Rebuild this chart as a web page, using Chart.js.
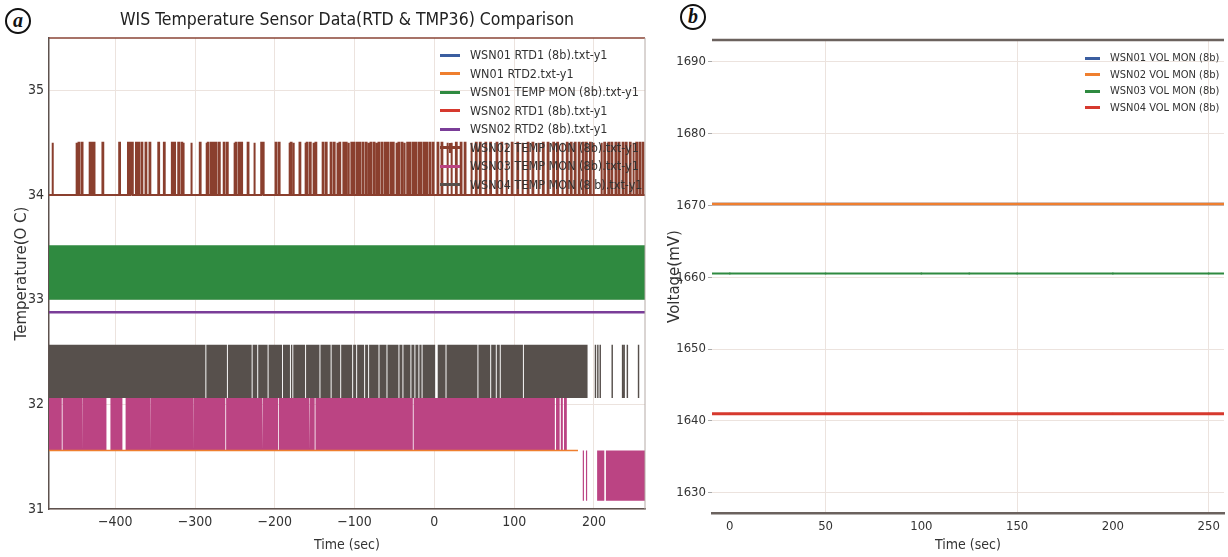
<!DOCTYPE html>
<html>
<head>
<meta charset="utf-8">
<title>WIS Temperature / Voltage</title>
<script src="https://cdn.jsdelivr.net/npm/chart.js"></script>
<style>
    body {
        margin: 0;
        width: 1228px;
        height: 557px;
        overflow: hidden;
        position: relative;
        background: #fff;
        font-family: "DejaVu Sans Condensed", "DejaVu Sans", sans-serif;
    }
    .panel { position: absolute; top: 0; }
    #panelA { left: 0; }
    #panelB { left: 660px; }
    .tag {
        position: absolute;
        width: 22px;
        height: 22px;
        border: 2px solid #111;
        border-radius: 50%;
        font: italic bold 20px "Liberation Serif", serif;
        text-align: center;
        line-height: 20px;
        color: #111;
    }
    .legend { position: absolute; color: #333; }
    .legend .row { position: relative; white-space: nowrap; }
    .legend .swatch { position: absolute; left: 0; top: 50%; height: 3px; margin-top: -1.5px; }
    .legend .plus { position: absolute; top: 50%; width: 2px; height: 10px; margin-top: -5px; }
</style>
</head>
<body>
<div class="tag" style="left:5px; top:8px;">a</div>
<div class="tag" style="left:680px; top:4px;">b</div>

<canvas id="panelA" class="panel" width="655" height="557"></canvas>
<canvas id="panelB" class="panel" width="568" height="557"></canvas>

<div id="legendA" class="legend" style="left:440px; top:46px; font-size:12.5px;"></div>
<div id="legendB" class="legend" style="left:1085px; top:50px; font-size:11px;"></div>

<script>
    // ---------- panel (a): temperature ----------
    const tempXRange = [-483, 264];
    const tempYRange = [31, 35.5];

    const tempLabels = [
        'WSN01 RTD1 (8b).txt-y1',
        'WN01 RTD2.txt-y1',
        'WSN01 TEMP MON (8b).txt-y1',
        'WSN02 RTD1 (8b).txt-y1',
        'WSN02 RTD2 (8b).txt-y1',
        'WSN02 TEMP MON (8b).txt-y1',
        'WSN03 TEMP MON (8b).txt-y1',
        'WSN04 TEMP MON (8 b).txt-y1'
    ];
    const tempColors = ['#3b5ea0', '#ef7f2f', '#2f8a40', '#d6392e', '#7a3d98', '#8a3f2e', '#bb4483', '#57504c'];

    // WSN02 TEMP MON rests at 34.0 and jumps to 34.5 at these times (sec)
    const wsn02TempLevels = [34.0, 34.5];
    const wsn02TempSpikes = [
        -479, -449, -446, -442, -432, -430, -427, -416, -395, -384, -381, -379, -374, -371, -367,
        -362, -357, -346, -339, -329, -326, -321, -317, -315, -305, -294, -286, -284, -280, -277,
        -274, -270, -264, -260, -251, -249, -245, -242, -234, -226, -217, -215, -199, -195, -182,
        -180, -177, -169, -162, -160, -156, -152, -149, -140, -136, -130, -126, -122, -119, -114,
        -111, -108, -104, -101, -97, -94, -90, -86, -83, -80, -76, -73, -70, -66, -62, -59, -55,
        -52, -48, -45, -41, -38, -34, -31, -27, -24, -20, -17, -13, -10, -6, -2, 4, 9, 16, 21, 27,
        33, 38, 46, 52, 57, 64, 70, 78, 84, 90, 97, 104, 110, 117, 123, 130, 136, 142, 149, 154,
        160, 166, 171, 176, 181, 186, 190, 195, 199, 209, 213, 218, 222, 227, 231, 236, 240, 245,
        249, 253, 257, 261
    ];

    // WSN01 TEMP MON flips between these two levels too fast to resolve
    const wsn01TempLevels = [33.0, 33.52];

    const wsn02Rtd2Level = 32.88;
    const wn01Rtd2Level = 31.56;
    const wn01Rtd2End = 180;

    // WSN04 TEMP MON: solid band with short gaps, mostly low after ~192 s
    const wsn04TempLevels = [32.06, 32.57];
    const wsn04TempGaps = [
        -287, -260, -229, -222, -209, -191, -181, -178, -162, -144, -130, -118, -103, -98, -88,
        -83, -70, -60, -45, -40, -30, -25, -20, -16, 1, 3, 14, 54, 70, 77, 82, 111
    ];
    const wsn04TempSparseFrom = 192;
    const wsn04TempLateSpikes = [201, 204, 207, 222, 235, 237, 241, 255];

    // WSN03 TEMP MON: band 31.56-32.06, steps down to 31.08-31.56 later
    const wsn03TempLevels = [31.08, 31.56, 32.06];
    const wsn03TempGaps = [
        [-467, -466], [-441, -440.4], [-411, -406], [-391, -387], [-356, -355.4], [-302, -301.4],
        [-262, -261], [-216, -215], [-196, -195], [-157, -156], [-150, -149], [-27, -26],
        [151, 152.5], [157, 158.5], [161, 162.5]
    ];
    const wsn03TempDropAt = 166;
    const wsn03TempLowRuns = [[186, 187.5], [190, 191.5], [204, 213], [215, 264]];

    // ---------- panel (b): voltage ----------
    const voltXRange = [-9.3, 258];
    const voltYRange = [1627.2, 1693];
    const voltLabels = ['WSN01 VOL MON (8b)', 'WSN02 VOL MON (8b)', 'WSN03 VOL MON (8b)', 'WSN04 VOL MON (8b)'];
    const voltColors = ['#3b5ea0', '#ef7f2f', '#2f8a40', '#d6392e'];
    const voltTimes = [-12, 0, 50, 100, 125, 150, 200, 250, 262];
    const wsn01Vol = [1670.2, 1670.2, 1670.2, 1670.2, 1670.2, 1670.2, 1670.2, 1670.2, 1670.2];
    const wsn02Vol = [1670.2, 1670.2, 1670.2, 1670.2, 1670.2, 1670.2, 1670.2, 1670.2, 1670.2];
    const wsn03Vol = [1660.5, 1660.5, 1660.5, 1660.5, 1660.5, 1660.5, 1660.5, 1660.5, 1660.5];
    const wsn04Vol = [1641.0, 1641.0, 1641.0, 1641.0, 1641.0, 1641.0, 1641.0, 1641.0, 1641.0];

    const cond = '"DejaVu Sans Condensed", "DejaVu Sans", sans-serif';
    const wide = '"DejaVu Sans", sans-serif';
    const gridColor = '#ece3de';

    // path that sits on `base` and switches to `other` for each [start, end] run
    function stepPath(from, to, base, other, runs) {
        const pts = [{ x: from, y: base }];
        runs.forEach(([a, b]) => {
            pts.push({ x: a, y: base }, { x: a, y: other }, { x: b, y: other }, { x: b, y: base });
        });
        pts.push({ x: to, y: base });
        return pts;
    }
    const runsOf = (times, w) => times.map(t => [t, t + w]);
    const minus = v => (v < 0 ? '\u2212' + Math.abs(v) : String(v));

    // draws the spines that Chart.js has no option for
    const framePlugin = {
        id: 'frame',
        afterDraw(chart, args, opts) {
            const { ctx, chartArea: a } = chart;
            ctx.save();
            if (opts.top) {
                ctx.strokeStyle = opts.top;
                ctx.lineWidth = opts.topWidth || 1.5;
                ctx.beginPath();
                ctx.moveTo(a.left, a.top);
                ctx.lineTo(a.right, a.top);
                ctx.stroke();
            }
            if (opts.right) {
                ctx.strokeStyle = opts.right;
                ctx.lineWidth = 1;
                ctx.beginPath();
                ctx.moveTo(a.right, a.top);
                ctx.lineTo(a.right, a.bottom);
                ctx.stroke();
            }
            ctx.restore();
        }
    };

    const band = { borderColor: 'rgba(0,0,0,0)', borderWidth: 0, pointRadius: 0 };

    new Chart(document.getElementById('panelA'), {
        type: 'line',
        data: {
            datasets: [
                {
                    label: tempLabels[1],
                    data: [{ x: tempXRange[0], y: wn01Rtd2Level }, { x: wn01Rtd2End, y: wn01Rtd2Level }],
                    borderColor: tempColors[1], borderWidth: 1.5, pointRadius: 0, order: 0
                },
                {
                    label: tempLabels[5],
                    data: stepPath(tempXRange[0], tempXRange[1], wsn02TempLevels[0], wsn02TempLevels[1],
                        runsOf(wsn02TempSpikes, 1.0)),
                    borderColor: tempColors[5], borderWidth: 2, pointRadius: 0, order: 1
                },
                {
                    label: tempLabels[4],
                    data: [{ x: tempXRange[0], y: wsn02Rtd2Level }, { x: tempXRange[1], y: wsn02Rtd2Level }],
                    borderColor: tempColors[4], borderWidth: 2.5, pointRadius: 0, order: 2
                },
                {
                    label: tempLabels[2],
                    data: stepPath(tempXRange[0], tempXRange[1], wsn01TempLevels[1], wsn01TempLevels[0], []),
                    ...band, backgroundColor: tempColors[2], fill: { value: wsn01TempLevels[0] }, order: 3
                },
                {
                    label: tempLabels[7],
                    data: stepPath(tempXRange[0], wsn04TempSparseFrom, wsn04TempLevels[1], wsn04TempLevels[0],
                            runsOf(wsn04TempGaps, 1.2))
                        .concat(stepPath(wsn04TempSparseFrom, tempXRange[1], wsn04TempLevels[0], wsn04TempLevels[1],
                            runsOf(wsn04TempLateSpikes, 1.8))),
                    ...band, backgroundColor: tempColors[7], fill: { value: wsn04TempLevels[0] }, order: 4
                },
                {
                    label: tempLabels[6],
                    data: stepPath(tempXRange[0], wsn03TempDropAt, wsn03TempLevels[2], wsn03TempLevels[1], wsn03TempGaps)
                        .concat(stepPath(wsn03TempDropAt, tempXRange[1], wsn03TempLevels[1], wsn03TempLevels[0],
                            wsn03TempLowRuns)),
                    ...band, backgroundColor: tempColors[6], fill: { value: wsn03TempLevels[1] }, order: 5
                }
            ]
        },
        options: {
            responsive: false,
            animation: false,
            layout: { padding: { left: 0, right: 10, top: 0, bottom: 0 } },
            plugins: {
                legend: { display: false },
                tooltip: { enabled: false },
                title: {
                    display: true,
                    fullSize: false,
                    text: 'WIS Temperature Sensor Data(RTD & TMP36) Comparison',
                    color: '#222',
                    font: { family: cond, size: 17.5, weight: 'normal' },
                    padding: { top: 10, bottom: 7 }
                },
                frame: { top: '#8a4536', topWidth: 1.6, right: '#b5aaa6' }
            },
            scales: {
                x: {
                    type: 'linear',
                    min: tempXRange[0],
                    max: tempXRange[1],
                    afterFit: s => { s.height = 48; },
                    ticks: {
                        stepSize: 100, includeBounds: false, callback: minus,
                        color: '#333', font: { family: cond, size: 14 }, padding: 5, maxRotation: 0
                    },
                    grid: { color: gridColor, drawTicks: false },
                    border: { color: '#5e524e', width: 1.5 },
                    title: {
                        display: true, text: 'Time (sec)', color: '#333',
                        font: { family: cond, size: 14 }, padding: { top: 0, bottom: 3 }
                    }
                },
                y: {
                    min: tempYRange[0],
                    max: tempYRange[1],
                    afterFit: s => { s.width = 49; },
                    ticks: {
                        stepSize: 1, includeBounds: false,
                        color: '#333', font: { family: cond, size: 14 }, padding: 5
                    },
                    grid: { color: gridColor, drawTicks: false },
                    border: { color: '#5e524e', width: 1.5 },
                    title: {
                        display: true, text: 'Temperature(O C)', color: '#333',
                        font: { family: wide, size: 15 }, padding: { top: 13 }
                    }
                }
            }
        },
        plugins: [framePlugin]
    });

    const volt = vals => voltTimes.map((t, i) => ({ x: t, y: vals[i] }));

    new Chart(document.getElementById('panelB'), {
        type: 'line',
        data: {
            datasets: [
                { label: voltLabels[3], data: volt(wsn04Vol), borderColor: voltColors[3], borderWidth: 3, order: 0 },
                { label: voltLabels[2], data: volt(wsn03Vol), borderColor: voltColors[2], borderWidth: 2, order: 1 },
                { label: voltLabels[1], data: volt(wsn02Vol), borderColor: voltColors[1], borderWidth: 2.5, order: 2 },
                { label: voltLabels[0], data: volt(wsn01Vol), borderColor: voltColors[0], borderWidth: 2.5, order: 3 }
            ].map(d => ({ ...d, pointRadius: 1, pointBorderWidth: 0, pointBackgroundColor: d.borderColor }))
        },
        options: {
            responsive: false,
            animation: false,
            layout: { padding: { left: 0, right: 0, top: 40, bottom: 0 } },
            plugins: {
                legend: { display: false },
                tooltip: { enabled: false },
                frame: { top: '#6b625e', topWidth: 2.5 }
            },
            scales: {
                x: {
                    type: 'linear',
                    min: voltXRange[0],
                    max: voltXRange[1],
                    afterFit: s => { s.height = 44; },
                    ticks: {
                        stepSize: 50, includeBounds: false,
                        color: '#333', font: { family: cond, size: 13 }, padding: 6, maxRotation: 0
                    },
                    grid: {
                        color: c => (c.tick && c.tick.value % 100 === 50 ? gridColor : 'rgba(0,0,0,0)'),
                        drawTicks: false
                    },
                    border: { color: '#6b625e', width: 2.5 },
                    title: {
                        display: true, text: 'Time (sec)', color: '#333',
                        font: { family: cond, size: 14 }, padding: { top: 0, bottom: 3 }
                    }
                },
                y: {
                    min: voltYRange[0],
                    max: voltYRange[1],
                    afterFit: s => { s.width = 52; },
                    ticks: {
                        stepSize: 10, includeBounds: false, callback: v => String(v),
                        color: '#333', font: { family: cond, size: 13 }, padding: 2
                    },
                    grid: { color: gridColor, tickLength: 4, tickColor: '#aaa' },
                    border: { display: false },
                    title: {
                        display: true, text: 'Voltage(mV)', color: '#333',
                        font: { family: wide, size: 15 }, padding: { top: 6 }
                    }
                }
            }
        },
        plugins: [framePlugin]
    });

    // HTML legends (placed inside the plot areas like the original)
    function buildLegend(id, labels, colors, rowH, swatchW, textX, plusIndex) {
        const box = document.getElementById(id);
        labels.forEach((label, i) => {
            const row = document.createElement('div');
            row.className = 'row';
            row.style.height = rowH + 'px';
            row.style.lineHeight = rowH + 'px';
            row.style.paddingLeft = textX + 'px';
            row.innerHTML = `<span class="swatch" style="width:${swatchW}px;background:${colors[i]}"></span>` +
                (i === plusIndex ? `<span class="plus" style="left:${swatchW / 2 - 1}px;background:${colors[i]}"></span>` : '') +
                label;
            box.appendChild(row);
        });
    }
    buildLegend('legendA', tempLabels, tempColors, 18.5, 20, 30, 5);
    buildLegend('legendB', voltLabels, voltColors, 16.5, 15, 25, -1);
</script>
</body>
</html>
